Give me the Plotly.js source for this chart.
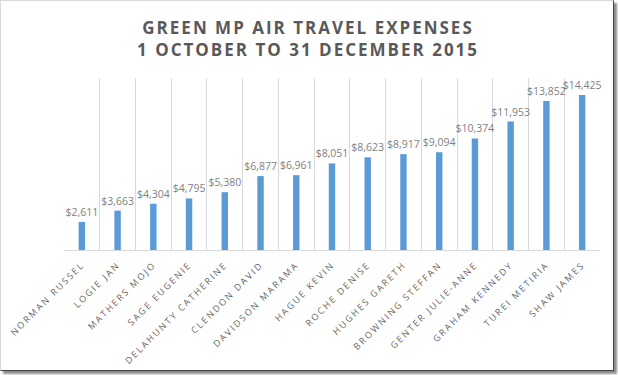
<!DOCTYPE html>
<html>
<head>
<meta charset="utf-8">
<script src="https://cdn.plot.ly/plotly-3.0.1.min.js"></script>
<style>
  html, body { margin: 0; padding: 0; background: #ffffff; }
  #wrap { position: relative; width: 618px; height: 375px; overflow: hidden; }
  #chart { position: absolute; left: 0; top: 0; width: 618px; height: 375px; }
  #frame {
    position: absolute; left: 0; top: 0; width: 612px; height: 369px;
    border: 1px solid; border-color: #d9d9d9 #444444 #444444 #d9d9d9;
    box-shadow: 3px 3px 2px rgba(0,0,0,0.45);
    pointer-events: none;
  }
  .annotation-text { letter-spacing: 2px; }
  .xtick text { letter-spacing: 2px; }
</style>
</head>
<body>
<div id="wrap">
  <div id="chart"></div>
  <div id="frame"></div>
</div>
<script>
const names = [
  "NORMAN RUSSEL", "LOGIE JAN", "MATHERS MOJO", "SAGE EUGENIE",
  "DELAHUNTY CATHERINE", "CLENDON DAVID", "DAVIDSON MARAMA", "HAGUE KEVIN",
  "ROCHE DENISE", "HUGHES GARETH", "BROWNING STEFFAN", "GENTER JULIE-ANNE",
  "GRAHAM KENNEDY", "TUREI METIRIA", "SHAW JAMES"
];
const expenses = [2611, 3663, 4304, 4795, 5380, 6877, 6961, 8051, 8623, 8917, 9094, 10374, 11953, 13852, 14425];
const titleText = "GREEN MP AIR TRAVEL EXPENSES<br>1 OCTOBER TO 31 DECEMBER 2015";

const trace = {
  type: "bar",
  x: names,
  y: expenses,
  marker: { color: "#5B9BD5" },
  texttemplate: "$%{y:,.0f}",
  textposition: "outside",
  constraintext: "none",
  cliponaxis: false,
  textfont: { family: "Open Sans, sans-serif", size: 10.5, color: "#7f7f7f" },
  hoverinfo: "none"
};

const layout = {
  width: 618,
  height: 375,
  margin: { l: 64, r: 18, t: 78, b: 125, pad: 0 },
  paper_bgcolor: "#ffffff",
  plot_bgcolor: "#ffffff",
  showlegend: false,
  bargap: 0.82,
  annotations: [{
    text: titleText,
    xref: "paper", yref: "paper",
    x: 0.455, y: 1.228,
    xanchor: "center", yanchor: "middle",
    showarrow: false,
    align: "center",
    font: { family: "Open Sans, sans-serif", size: 17, color: "#595959", weight: "bold" }
  }],
  xaxis: {
    type: "category",
    tickson: "boundaries",
    showgrid: true,
    gridcolor: "#d9d9d9",
    gridwidth: 1,
    showline: true,
    linecolor: "#d9d9d9",
    linewidth: 1,
    ticks: "",
    tickangle: -45,
    ticklabelstandoff: 5,
    tickfont: { family: "Open Sans, sans-serif", size: 9, color: "#666666" },
    automargin: false,
    fixedrange: true
  },
  yaxis: {
    range: [0, 16000],
    showgrid: false,
    zeroline: false,
    showticklabels: false,
    showline: false,
    ticks: "",
    fixedrange: true
  }
};

Plotly.newPlot("chart", [trace], layout, { staticPlot: true, displayModeBar: false });
</script>
</body>
</html>
